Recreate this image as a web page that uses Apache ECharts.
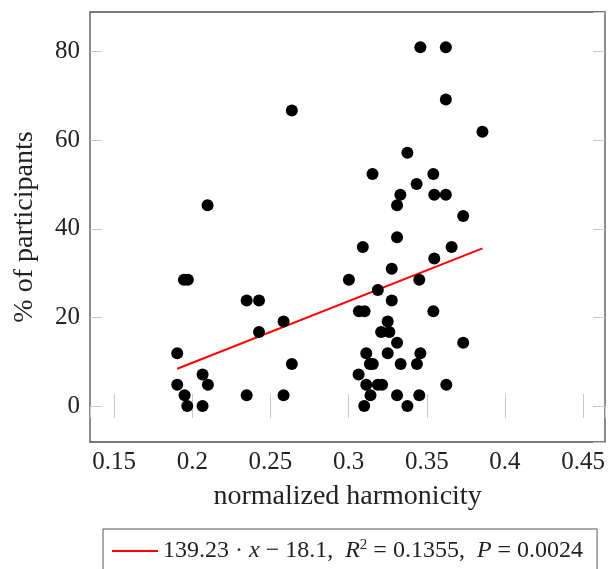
<!DOCTYPE html>
<html>
<head>
<meta charset="utf-8">
<script src="https://cdn.jsdelivr.net/npm/echarts@6/dist/echarts.min.js"></script>
<style>
html,body{margin:0;padding:0;background:#fff;}
#chart{width:608px;height:569px;}
</style>
</head>
<body>
<div id="chart"></div>
<script>
// normalized harmonicity (x) and % of participants (y)
var harmonicity = [
  0.2637, 0.2098, 0.3459, 0.3622, 0.3622, 0.3856, 0.3376, 0.3153, 0.3542, 0.3435,
  0.3331, 0.3548, 0.3622, 0.3310, 0.3733, 0.3310, 0.3091, 0.3659, 0.1947, 0.1972,
  0.2348, 0.2427, 0.2584, 0.2427, 0.1904, 0.2637, 0.2066, 0.1904, 0.2100, 0.1951,
  0.2348, 0.2584, 0.1968, 0.2066, 0.3002, 0.3548, 0.3276, 0.3452, 0.3187, 0.3276,
  0.3066, 0.3102, 0.3542, 0.3250, 0.3208, 0.3261, 0.3310, 0.3733, 0.3113, 0.3250,
  0.3459, 0.3136, 0.3155, 0.3333, 0.3437, 0.3064, 0.3113, 0.3187, 0.3214, 0.3625,
  0.3140, 0.3310, 0.3452, 0.3100, 0.3376
];
var participants = [
  66.7, 45.3, 81.0, 81.0, 69.2, 61.9, 57.2, 52.4, 52.4, 50.1,
  47.7, 47.7, 47.7, 45.3, 42.9, 38.1, 35.9, 35.9, 28.5, 28.5,
  23.8, 23.8, 19.1, 16.7, 11.9, 9.5, 7.1, 4.8, 4.8, 2.4,
  2.4, 2.4, 0.0, 0.0, 28.5, 33.3, 31.0, 28.5, 26.2, 23.8,
  21.4, 21.4, 21.4, 19.1, 16.7, 16.7, 14.3, 14.3, 11.9, 11.9,
  11.9, 9.5, 9.5, 9.5, 9.5, 7.1, 4.8, 4.8, 4.8, 4.8,
  2.4, 2.4, 2.4, 0.0, 0.0
];
// regression line end points
var fitX = [0.1904, 0.3856];
var fitY = [8.4, 35.6];
var fitName = 'fit';

var xMin = 0.1346, xMax = 0.4640;
var yMin = -8.13, yMax = 88.96;

var scatterData = harmonicity.map(function (x, i) { return [x, participants[i]]; });
var fitData = fitX.map(function (x, i) { return [x, fitY[i]]; });

var FONT = 'Liberation Serif';
var tickStyle = { show: true, inside: true, length: 12, lineStyle: { color: '#c8c8c8', width: 1 } };

var chart = echarts.init(document.getElementById('chart'), null, { renderer: 'canvas' });
chart.setOption({
  animation: false,
  backgroundColor: '#fff',
  grid: {
    left: 90, top: 12, width: 517.5, height: 430,
    show: true, borderColor: '#4d4d4d', borderWidth: 1.3, backgroundColor: 'transparent'
  },
  legend: {
    show: true,
    data: [{ name: fitName, icon: 'rect', itemStyle: { color: '#ff0000' } }],
    left: 103, top: 529,
    padding: [9, 14, 9, 9],
    borderColor: '#555', borderWidth: 1,
    itemWidth: 46, itemHeight: 2, itemGap: 8,
    formatter: function () {
      return '{n|139.23 · }{i|x}{n| − 18.1,  }{i|R}{s|2}{n| = 0.1355,  }{i|P}{n| = 0.0024}';
    },
    textStyle: {
      fontFamily: FONT, fontSize: 24, color: '#222',
      rich: {
        n: { fontFamily: FONT, fontSize: 24, color: '#222' },
        i: { fontFamily: FONT, fontSize: 24, fontStyle: 'italic', color: '#222' },
        s: { fontFamily: FONT, fontSize: 15, color: '#222', verticalAlign: 'bottom', padding: [0, 0, 11, 0] }
      }
    }
  },
  xAxis: [{
    type: 'value', min: xMin, max: xMax, position: 'bottom',
    name: 'normalized harmonicity', nameLocation: 'middle', nameGap: 41,
    nameTextStyle: { fontFamily: FONT, fontSize: 28, color: '#222' },
    axisLine: { show: false },
    axisTick: tickStyle,
    splitLine: { show: false },
    axisLabel: { fontFamily: FONT, fontSize: 25, color: '#222', margin: 8, showMinLabel: false, showMaxLabel: false }
  }, {
    type: 'value', min: xMin, max: xMax, position: 'top',
    axisLine: { show: false }, axisTick: tickStyle, splitLine: { show: false },
    axisLabel: { show: false }
  }],
  yAxis: [{
    type: 'value', min: yMin, max: yMax, position: 'left',
    name: '% of participants', nameLocation: 'middle', nameGap: 51,
    nameTextStyle: { fontFamily: FONT, fontSize: 28, color: '#222' },
    axisLine: { show: false },
    axisTick: tickStyle,
    splitLine: { show: false },
    axisLabel: { fontFamily: FONT, fontSize: 25, color: '#222', margin: 10, showMinLabel: false, showMaxLabel: false }
  }, {
    type: 'value', min: yMin, max: yMax, position: 'right',
    axisLine: { show: false }, axisTick: tickStyle, splitLine: { show: false },
    axisLabel: { show: false }
  }],
  series: [{
    name: fitName, type: 'line', data: fitData,
    symbol: 'none', showSymbol: false,
    lineStyle: { color: '#ff0000', width: 2 }, itemStyle: { color: '#ff0000' },
    z: 2
  }, {
    name: 'points', type: 'scatter', data: scatterData,
    symbol: 'circle', symbolSize: 12,
    itemStyle: { color: '#000', opacity: 1 },
    z: 3
  }]
});
</script>
</body>
</html>
